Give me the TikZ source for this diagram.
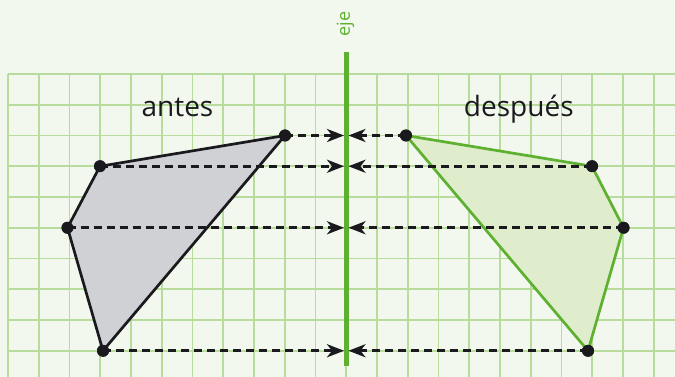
\documentclass[tikz,border=0pt]{standalone}
\usepackage{fontspec}
\setmainfont{Open Sans}
\usetikzlibrary{arrows.meta}
\definecolor{bgc}{HTML}{F3F8EE}
\definecolor{gridc}{HTML}{B8DC9C}
\definecolor{axisc}{HTML}{5DB030}
\definecolor{ink}{HTML}{1A1A1E}
\definecolor{grayfill}{HTML}{D0D1D4}
\definecolor{greenfill}{HTML}{DFEDCD}
\tikzset{
  dot/.style={circle, fill=ink, inner sep=0pt, minimum size=12pt},
  gridline/.style={gridc, line width=1.7pt},
  proj/.style={ink, line width=3pt, dash pattern=on 8pt off 5pt, -{Stealth[length=17pt,width=13pt,inset=5pt]}},
  lbl/.style={font=\fontsize{28}{30}\selectfont, text=ink, anchor=base, inner sep=0pt},
}
\begin{document}
\begin{tikzpicture}[x=1pt,y=-1pt]
\fill[bgc] (0,0) rectangle (675,377);
\useasboundingbox (0,0) rectangle (675,377);
% grid
\foreach \k in {0,...,21} \draw[gridline] ({8+\k*30.75},74) -- ({8+\k*30.75},377);
\foreach \k in {0,...,9} \draw[gridline] (8,{74+\k*30.75}) -- (675,{74+\k*30.75});
% points
\node[dot] (A) at (285,{74+2*30.75}) {};
\node[dot] (B) at (100,{74+3*30.75}) {};
\node[dot] (C) at (67.5,{74+5*30.75}) {};
\node[dot] (D) at (103,{74+9*30.75}) {};
\node[dot] (A2) at (406,{74+2*30.75}) {};
\node[dot] (B2) at (592,{74+3*30.75}) {};
\node[dot] (C2) at (623.5,{74+5*30.75}) {};
\node[dot] (D2) at (588,{74+9*30.75}) {};
% polygons
\filldraw[fill=grayfill, draw=ink, line width=2.7pt, line join=round] (A.center) -- (B.center) -- (C.center) -- (D.center) -- cycle;
\filldraw[fill=greenfill, draw=axisc, line width=2.7pt, line join=round] (A2.center) -- (B2.center) -- (C2.center) -- (D2.center) -- cycle;
% axis
\coordinate (axtop) at ({8+11*30.75},52);
\coordinate (axbot) at ({8+11*30.75},366);
\draw[axisc, line width=4.5pt] (axtop) -- (axbot);
\node[rotate=90, text=axisc, font=\fontsize{18}{20}\selectfont, inner sep=0pt] (eje) at (345.5,24) {eje};
% projection arrows
\foreach \p/\q in {A/2, B/3, C/5, D/9} {
  \coordinate (L\p) at ({8+11*30.75-2.2},{74+\q*30.75});
  \draw[proj] (\p.center) -- (L\p);
}
\foreach \p/\q in {A2/2, B2/3, C2/5, D2/9} {
  \coordinate (R\p) at ({8+11*30.75+2.2},{74+\q*30.75});
  \draw[proj] (\p.center) -- (R\p);
}
% redraw dots on top
\foreach \p in {A,B,C,D,A2,B2,C2,D2} \fill[ink] (\p.center) circle [radius=6];
% labels
\node[lbl] (antes) at (177.5,116.7) {antes};
\node[lbl] (despues) at (518.8,116.7) {después};
\end{tikzpicture}
\end{document}
